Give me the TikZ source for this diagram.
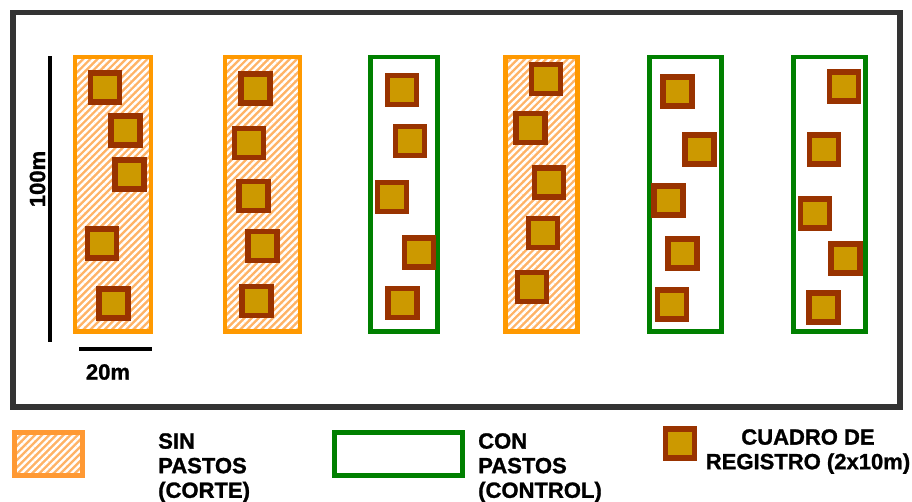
\documentclass[tikz,border=0pt]{standalone}
\usepackage{fontspec}
\setmainfont{Liberation Sans}
\newfontfamily\rotulofont{Liberation Sans Bold}[FakeBold=1.2]
\usetikzlibrary{patterns.meta}
\definecolor{marco}{HTML}{333333}
\definecolor{naranja}{HTML}{FF9900}
\definecolor{naranjaley}{HTML}{FF9933}
\definecolor{naranjaclaro}{HTML}{FFB366}
\definecolor{verde}{HTML}{008000}
\definecolor{cafe}{HTML}{993300}
\definecolor{ocre}{HTML}{CC9900}
\tikzset{
  rayado/.style={preaction={fill=naranjaclaro},
    pattern={Lines[angle=45,distance=4.3pt,line width=2.1pt]}, pattern color=white},
  sinpastos/.style={rayado, draw=naranja, line width=3.8pt},
  conpastos/.style={draw=verde, line width=3.8pt},
  cuadro/.style={draw=cafe, fill=ocre, line width=4.3pt, minimum size=0.87cm, inner sep=0pt},
  rotulo/.style={font=\fontsize{18.8pt}{21pt}\selectfont\rotulofont, inner sep=0pt},
  escala/.style={line width=3.8pt}
}

\begin{document}
\begin{tikzpicture}[x=0.03cm, y=-0.03cm]
  \useasboundingbox (0,0) rectangle (912,502);
  % parcela
  \draw[marco, line width=4.7pt] (13,12.5) rectangle (900,407);
  % franjas
  \foreach \xa/\xb/\tipo in {75/151/sinpastos, 225/300/sinpastos, 370.5/437.5/conpastos,
      505.5/577.5/sinpastos, 649.5/721.5/conpastos, 793.5/865.5/conpastos}
    \draw[\tipo] (\xa,57) rectangle (\xb,331.5);
  % cuadros de registro
  \foreach \s/\lista in {1/{105/87.5, 125.5/130.5, 129.5/174.5, 102/243.5, 113.5/303.5},
      2/{255.5/88.5, 249/143, 253.5/196, 262.5/246, 256.5/301},
      3/{402/90, 410/141, 392/197, 419/252.5, 402.5/303},
      4/{546/79, 530.5/128, 549/182.5, 543/233, 532/287},
      5/{677.5/91.5, 699.5/149.5, 668.5/200.5, 682.5/253.5, 672/304.5},
      6/{844/86.5, 824/149.5, 815/213.5, 845.5/258.5, 823.5/307.5}}{
    \foreach \cx/\cy [count=\k] in \lista
      \node[cuadro] (c\s-\k) at (\cx,\cy) {};
  }
  % escalas
  \coordinate (v1) at (50,56);
  \coordinate (v2) at (50,342);
  \coordinate (h1) at (79,349);
  \coordinate (h2) at (152,349);
  \draw[escala] (v1) -- (v2);
  \draw[escala] (h1) -- (h2);
  \node[rotulo, rotate=90] (largo) at (37.5,179) {100m};
  \node[rotulo] (ancho) at (108,372) {20m};
  % leyenda
  \draw[rayado, draw=naranjaley, line width=4.3pt] (14.5,432.5) rectangle (82.5,475.5);
  \node[rotulo, anchor=north west, align=left] (ley1) at (158,433) {SIN\\PASTOS\\(CORTE)};
  \draw[conpastos, line width=4.3pt] (334.5,432.5) rectangle (462.5,475.5);
  \node[rotulo, anchor=north west, align=left] (ley2) at (478,433) {CON\\PASTOS\\(CONTROL)};
  \node[cuadro] (ley3) at (680,443.5) {};
  \node[rotulo, anchor=north, align=center] (ley4) at (808,429) {CUADRO DE\\REGISTRO (2x10m)};
\end{tikzpicture}
\end{document}
